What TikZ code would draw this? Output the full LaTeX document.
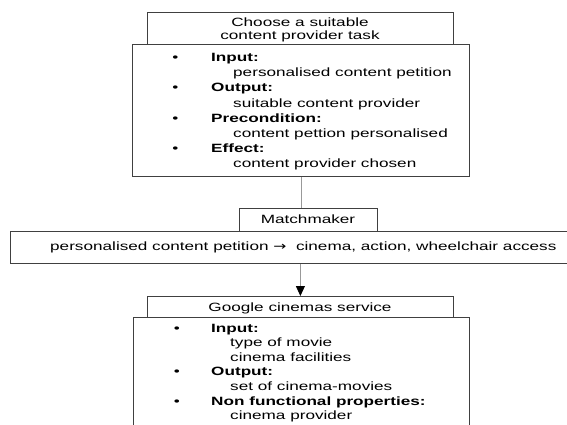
\documentclass[tikz,border=0pt]{standalone}
\usepackage{fontspec}
\setmainfont[FakeStretch=1.43]{Liberation Sans}
\newfontfamily\arrowfont[FakeStretch=1.3]{DejaVu Sans}
\usetikzlibrary{arrows.meta}
\begin{document}
\begin{tikzpicture}[x=1pt,y=-1pt,
  box/.style={draw=black!75, line width=0.8pt, fill=white, inner sep=0pt, anchor=north west},
  txt/.style={inner sep=0pt, font=\fontsize{12}{14}\selectfont},
  val/.style={txt, anchor=base west},
  lbl/.style={txt, anchor=base west, font=\fontsize{12}{14}\selectfont\bfseries},
  bul/.style={txt, anchor=base},
  ctr/.style={txt, anchor=base},
  conn/.style={draw=black!40, line width=0.8pt}
]
\useasboundingbox (0,0) rectangle (567,425);
\fill[white] (0,0) rectangle (567,425);
\clip (0,0) rectangle (567,425);

% top task
\node[box, minimum width=306pt, minimum height=32pt] (tb) at (147,12) {};
\node[box, minimum width=337pt, minimum height=132pt] (bb) at (132,44) {};
\node[ctr] (t1) at (300,26.5) {Choose a suitable};
\node[ctr] (t2) at (300,40) {content provider task};

\node[bul] (b1) at (175.3,62) {•};
\node[lbl] (l1) at (211,62) {Input:};
\node[val] (v1) at (233,77) {personalised content petition};
\node[bul] (b2) at (175.3,92) {•};
\node[lbl] (l2) at (211,92) {Output:};
\node[val] (v2) at (233,107) {suitable content provider};
\node[bul] (b3) at (175.3,122) {•};
\node[lbl] (l3) at (211,122) {Precondition:};
\node[val] (v3) at (233,137) {content pettion personalised};
\node[bul] (b4) at (175.3,152) {•};
\node[lbl] (l4) at (211,152) {Effect:};
\node[val] (v4) at (233,167) {content provider chosen};

% matchmaker
\node[box, minimum width=138pt, minimum height=23pt] (mm) at (239,208) {};
\node[ctr] (mt) at (308,223) {Matchmaker};
\draw[conn] (bb.south) -- (bb.south |- mm.north);

\node[box, minimum width=575pt, minimum height=32pt] (pb) at (10,231) {};
\node[val] (pt) at (50,250) {personalised content petition {\arrowfont →}\ \ cinema, action, wheelchair access};

% google service
\node[box, minimum width=306pt, minimum height=21pt] (gt) at (147,296) {};
\node[box, minimum width=336pt, minimum height=130pt] (gb) at (133,317) {};
\node[ctr] (gtt) at (300,311) {Google cinemas service};
\draw[conn, -{Triangle[width=9pt,length=10pt,color=black]}] (gt.north |- pb.south) -- (gt.north);

\node[bul] (c1) at (177,332) {•};
\node[lbl] (k1) at (211,332) {Input:};
\node[val] (w1) at (230,346) {type of movie};
\node[val] (w2) at (230,361) {cinema facilities};
\node[bul] (c2) at (177,375.5) {•};
\node[lbl] (k2) at (211,375.5) {Output:};
\node[val] (w3) at (230,390) {set of cinema-movies};
\node[bul] (c3) at (177,405) {•};
\node[lbl] (k3) at (211,405) {Non functional properties:};
\node[val] (w4) at (230,419.5) {cinema provider};
\end{tikzpicture}
\end{document}
